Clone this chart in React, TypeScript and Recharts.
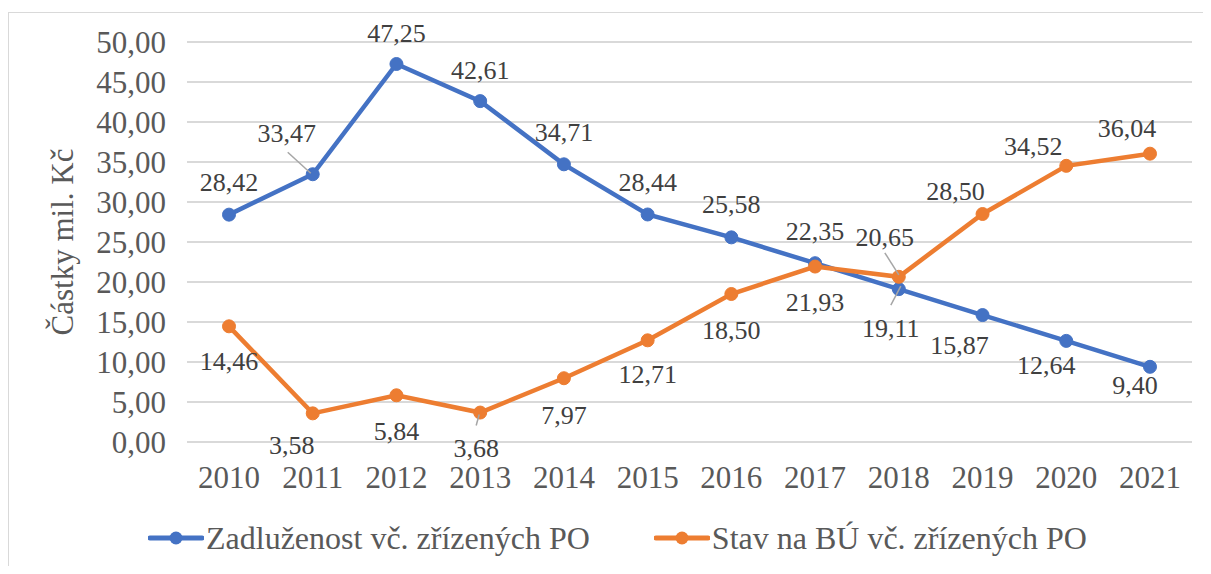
import React from "react";
import { CartesianGrid, Legend, Line, LineChart, XAxis, YAxis } from "recharts";

const years = ["2010", "2011", "2012", "2013", "2014", "2015", "2016", "2017", "2018", "2019", "2020", "2021"];
const zadluzenost = [28.42, 33.47, 47.25, 42.61, 34.71, 28.44, 25.58, 22.35, 19.11, 15.87, 12.64, 9.4];
const stavBU = [14.46, 3.58, 5.84, 3.68, 7.97, 12.71, 18.5, 21.93, 20.65, 28.5, 34.52, 36.04];
const yTicks = [0, 5, 10, 15, 20, 25, 30, 35, 40, 45, 50];

const seriesNames = ["Zadluženost vč. zřízených PO", "Stav na BÚ vč. zřízených PO"];
const BLUE = "#4472C4";
const ORANGE = "#ED7D31";
const FONT = "'Liberation Serif', 'Times New Roman', serif";

// label offsets from the point (text center), like Excel placed them
const blueLabelPos = [[0, -33], [-26, -41], [0, -31], [0, -31], [0, -32], [0, -33], [0, -33], [0, -32], [-8, 39], [-23, 30], [-20, 24], [-15, 18]];
const orangeLabelPos = [[0, 35], [-21, 32], [0, 36], [-4, 35], [0, 37], [0, 34], [0, 36], [0, 35], [-14, -40], [-27, -23], [-33, -20], [-23, -26]];
// leader lines (x1, y1, x2, y2 relative to point)
const blueLeaders: Record<number, number[]> = { 1: [-25, -22, -2, -1], 8: [-8, 16, 2, -3] };
const orangeLeaders: Record<number, number[]> = { 3: [-1, 2, -4, 13], 8: [-14, -24, 0, -2] };

const data = years.map((y, i) => ({ year: y, zad: zadluzenost[i], stav: stavBU[i] }));

const fmt = (v: number) => v.toFixed(2).replace(".", ",");

const makeLabel = (pos: number[][], leaders: Record<number, number[]>, values: number[]) => (props: any) => {
  const { x, y, value } = props;
  const index = props.index ?? values.indexOf(value);
  const [dx, dy] = pos[index] || [0, -30];
  const ld = leaders[index];
  return (
    <g key={`lbl-${index}`}>
      {ld && (
        <line x1={x + ld[0]} y1={y + ld[1]} x2={x + ld[2]} y2={y + ld[3]} stroke="#a6a6a6" strokeWidth={1.5} />
      )}
      <text x={x + dx} y={y + dy} dy="0.35em" textAnchor="middle" fontFamily={FONT} fontSize={26} fill="#404040">
        {fmt(value)}
      </text>
    </g>
  );
};

function LegendIcon({ color }: { color: string }) {
  return (
    <svg width={56} height={20} style={{ display: "block" }}>
      <line x1={2} y1={10} x2={54} y2={10} stroke={color} strokeWidth={5} strokeLinecap="round" />
      <circle cx={28} cy={10} r={6.5} fill={color} />
    </svg>
  );
}

const renderLegend = () => (
  <div style={{ display: "flex", alignItems: "center", height: 40, paddingLeft: 139, fontFamily: FONT, fontSize: 32, color: "#595959" }}>
    <div style={{ display: "flex", alignItems: "center" }}>
      <LegendIcon color={BLUE} />
      <span style={{ marginLeft: 2, whiteSpace: "nowrap" }}>{seriesNames[0]}</span>
    </div>
    <div style={{ display: "flex", alignItems: "center", marginLeft: 64 }}>
      <LegendIcon color={ORANGE} />
      <span style={{ marginLeft: 2, whiteSpace: "nowrap" }}>{seriesNames[1]}</span>
    </div>
  </div>
);

export default function App() {
  return (
    <div style={{ paddingTop: 4 }}>
      <div style={{ width: 1202, height: 553, borderLeft: "1px solid #d9d9d9", borderTop: "1px solid #d9d9d9", background: "#fff" }}>
        <LineChart width={1202} height={553} data={data} margin={{ top: 29, right: 19, left: 28, bottom: 94 }}>
          <CartesianGrid vertical={false} stroke="#d9d9d9" strokeWidth={2} />
          <XAxis
            dataKey="year"
            axisLine={false}
            tickLine={false}
            tickSize={0}
            tickMargin={24}
            height={30}
            padding={{ left: 42, right: 42 }}
            interval={0}
            tick={{ fontFamily: FONT, fontSize: 31, fill: "#595959" }}
          />
          <YAxis
            domain={[0, 50]}
            ticks={yTicks}
            interval={0}
            width={150}
            axisLine={false}
            tickLine={false}
            tickSize={0}
            tickMargin={21}
            tickFormatter={fmt}
            tick={{ fontFamily: FONT, fontSize: 31, fill: "#595959" }}
            label={{
              content: (p: any) => {
                const vb = p.viewBox || { x: 28, y: 29, width: 150, height: 400 };
                const cx = 64;
                const cy = vb.y + vb.height / 2;
                return (
                  <text x={cx} y={cy} transform={`rotate(-90, ${cx}, ${cy})`} textAnchor="middle" fontFamily={FONT} fontSize={31} fill="#595959">
                    Částky mil. Kč
                  </text>
                );
              },
            }}
          />
          <Legend
            layout="horizontal"
            verticalAlign="middle"
            align="center"
            content={renderLegend}
            wrapperStyle={{ top: 505, left: 0, width: 1202, height: 40 }}
          />
          <Line
            type="linear"
            dataKey="zad"
            name={seriesNames[0]}
            stroke={BLUE}
            strokeWidth={4.5}
            dot={{ r: 6.5, fill: BLUE, stroke: BLUE, strokeWidth: 1 }}
            activeDot={false}
            isAnimationActive={false}
            label={makeLabel(blueLabelPos, blueLeaders, zadluzenost)}
          />
          <Line
            type="linear"
            dataKey="stav"
            name={seriesNames[1]}
            stroke={ORANGE}
            strokeWidth={4.5}
            dot={{ r: 6.5, fill: ORANGE, stroke: ORANGE, strokeWidth: 1 }}
            activeDot={false}
            isAnimationActive={false}
            label={makeLabel(orangeLabelPos, orangeLeaders, stavBU)}
          />
        </LineChart>
      </div>
    </div>
  );
}
